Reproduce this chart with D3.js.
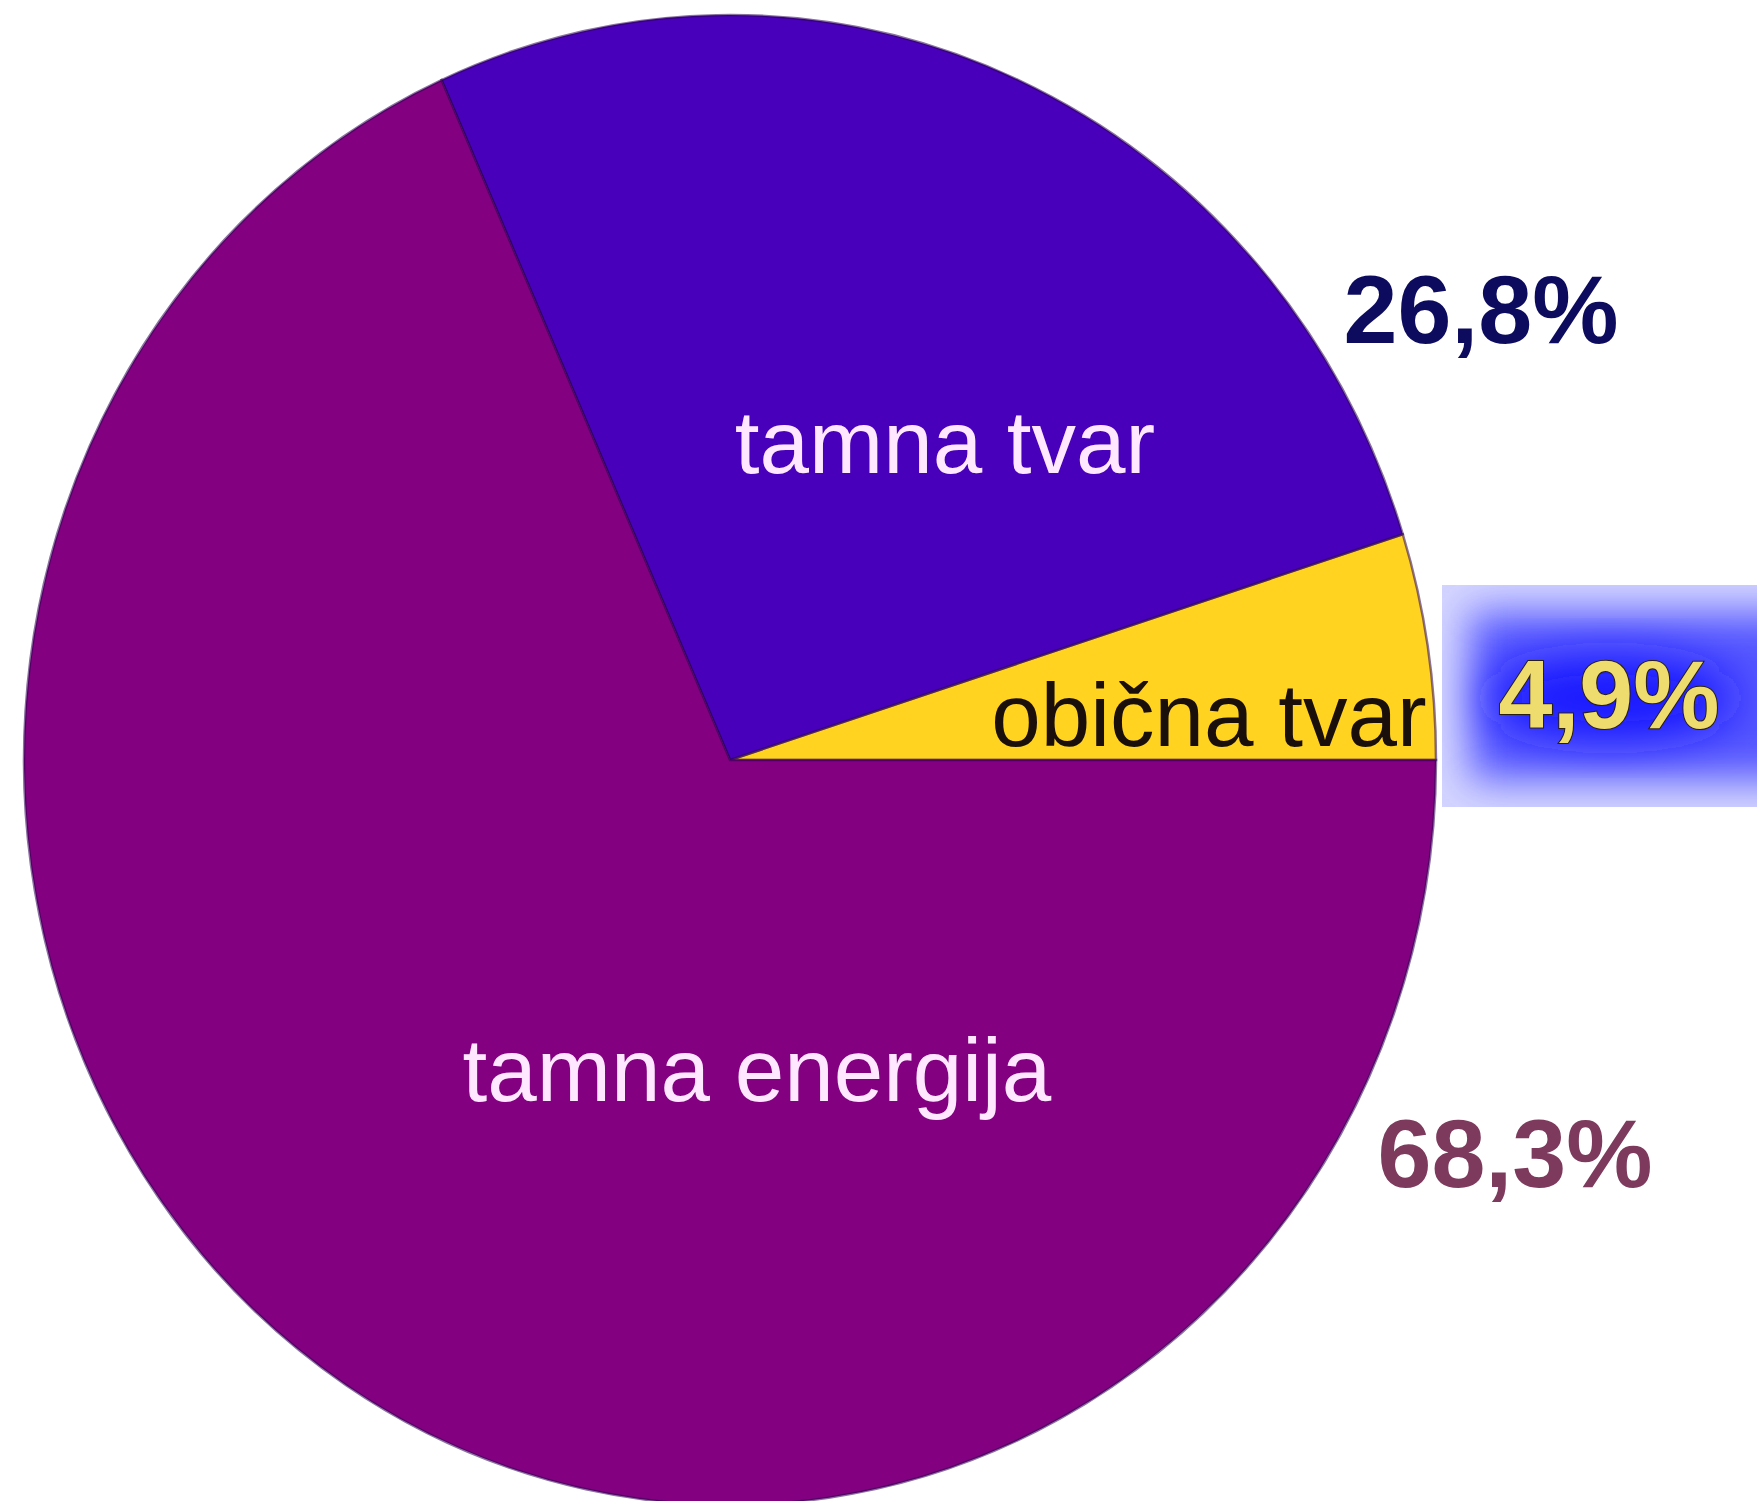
<!DOCTYPE html>
<html>
<head>
<meta charset="utf-8">
<script src="https://cdn.jsdelivr.net/npm/d3@7"></script>
<style>
  html, body { margin: 0; padding: 0; background: #ffffff; }
  svg { display: block; }
</style>
</head>
<body>
<script>
// ---- data ----
const categories = ["obična tvar", "tamna tvar", "tamna energija"];
const values = [4.9, 26.8, 68.3];
const sliceColors = ["#ffd320", "#4800ba", "#830080"];
const innerLabelColors = ["#1a0f0a", "#ffe8ff", "#ffe8ff"];
const valueLabelColors = ["#efdc6e", "#0c0b5e", "#7d3a5c"];

// ---- layout ----
const W = 1757, H = 1501;
const cx = 730, cy = 760, rx = 706, ry = 745;
// label anchors relative to pie center (px), in category order
const innerLabelPos = [[479, -14], [215, -287], [27, 341]];
const valueLabelPos = [[879, -32], [751, -417], [785, 427]];

const svg = d3.select("body").append("svg")
  .attr("width", W).attr("height", H)
  .attr("viewBox", `0 0 ${W} ${H}`);

const defs = svg.append("defs");
defs.append("filter").attr("id", "glow").attr("x", "-50%").attr("y", "-50%").attr("width", "200%").attr("height", "200%")
  .append("feGaussianBlur").attr("stdDeviation", 20);
defs.append("filter").attr("id", "glow2").attr("x", "-50%").attr("y", "-50%").attr("width", "200%").attr("height", "200%")
  .append("feGaussianBlur").attr("stdDeviation", 24);
defs.append("clipPath").attr("id", "boxclip")
  .append("rect").attr("x", 1442).attr("y", 585).attr("width", 400).attr("height", 222);

const pie = d3.pie().sort(null).value(d => d)
  .startAngle(Math.PI / 2).endAngle(Math.PI / 2 - 2 * Math.PI);
const arcs = pie(values);
const arc = d3.arc().innerRadius(0).outerRadius(rx);

const g = svg.append("g").attr("transform", `translate(${cx},${cy}) scale(1,${ry / rx})`);
g.selectAll("path.slice").data(arcs).join("path")
  .attr("class", "slice")
  .attr("d", arc)
  .attr("fill", (d, i) => sliceColors[i])
  .attr("stroke", "#2a0050")
  .attr("stroke-opacity", 0.55)
  .attr("stroke-width", 2.5)
  .attr("vector-effect", "non-scaling-stroke");

// glowing blue box behind the small value label
const box = svg.append("g").attr("clip-path", "url(#boxclip)");
box.append("rect").attr("x", 1442).attr("y", 585).attr("width", 400).attr("height", 222).attr("fill", "#d4d5ff");
box.append("rect").attr("x", 1470).attr("y", 612).attr("width", 400).attr("height", 168)
  .attr("fill", "#5557ff").attr("filter", "url(#glow)");
box.append("ellipse").attr("cx", 1610).attr("cy", 698).attr("rx", 125).attr("ry", 40)
  .attr("fill", "#1414ff").attr("filter", "url(#glow2)");

const fmt = v => d3.format(".1f")(v).replace(".", ",") + "%";

// inner category labels
svg.selectAll("text.cat").data(categories).join("text")
  .attr("class", "cat")
  .attr("x", (d, i) => cx + innerLabelPos[i][0])
  .attr("y", (d, i) => cy + innerLabelPos[i][1])
  .attr("text-anchor", "middle")
  .attr("font-family", "'Liberation Sans', Arial, sans-serif")
  .attr("font-size", 89)
  .attr("fill", (d, i) => innerLabelColors[i])
  .text(d => d);

// outer value labels
svg.selectAll("text.val").data(values).join("text")
  .attr("class", "val")
  .attr("x", (d, i) => cx + valueLabelPos[i][0])
  .attr("y", (d, i) => cy + valueLabelPos[i][1])
  .attr("text-anchor", "middle")
  .attr("font-family", "'Liberation Sans', Arial, sans-serif")
  .attr("font-weight", "bold")
  .attr("font-size", 97)
  .attr("fill", (d, i) => valueLabelColors[i])
  .attr("stroke", (d, i) => i === 0 ? "#2a2010" : "none")
  .attr("stroke-width", (d, i) => i === 0 ? 2 : 0)
  .attr("paint-order", "stroke")
  .text(d => fmt(d));
</script>
</body>
</html>
